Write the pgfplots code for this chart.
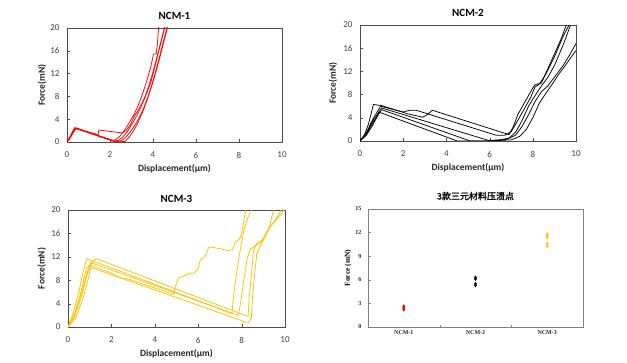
\documentclass[border=0pt]{standalone}
\usepackage{fontspec}
\usepackage{pgfplots}
\pgfplotsset{compat=1.18}
\setmainfont{Carlito}
\newfontfamily\lsf{Liberation Serif}
\newfontfamily\cjk{Noto Sans CJK SC}[FakeBold=1.5]
\definecolor{ncmred}{RGB}{255,0,0}
\definecolor{ncmorange}{RGB}{255,192,0}
\pgfplotsset{
  ncm/.style={
    scale only axis,
    xmin=0,xmax=10,ymin=0,ymax=20,
    xtick={0,2,...,10}, ytick={0,4,...,20},
    tick pos=left, tick align=inside, major tick length=3pt,
    axis line style={black!70}, tick style={black!70},
    ticklabel style={font=\fontsize{9}{10}\selectfont, text=black!75},
    /pgf/number format/assume math mode=true,
    xticklabel style={yshift=-6.5pt},
    yticklabel style={xshift=-4pt},
    label style={font=\bfseries\fontsize{9.5}{11}\selectfont, text=black!85},
    title style={font=\bfseries\fontsize{11}{13}\selectfont, at={(axis description cs:0.5,1)}, anchor=base},
    xlabel={Displacement(μm)}, ylabel={Force(mN)},
    xlabel style={at={(axis description cs:0.5,0)}, anchor=base, yshift=-29.5pt},
    every axis plot/.append style={line width=0.75pt, mark=none},
  }
}
\begin{document}
\begin{tikzpicture}
\path[use as bounding box] (0,0) rectangle (627pt,362pt);

% ---------- NCM-1 ----------
\begin{axis}[ncm, at={(67pt,220pt)}, anchor=south west, width=215pt, height=114pt,
  title={NCM-1}, title style={yshift=2.5pt},
  ylabel style={at={(axis description cs:-0.116,0.5)}, anchor=center}]
\addplot[ncmred] coordinates {(0,0)(0.1,0.5)(0.2,1.2)(0.3,1.9)(0.38,2.45)(2.2,0.1)(2.4,0.3)(2.6,0.9)(2.8,1.8)(3.0,3.0)(3.2,4.3)(3.4,5.8)(3.6,7.6)(3.8,9.8)(4.0,12.3)(4.2,15.1)(4.4,18.0)(4.6,21.0)};
\addplot[ncmred] coordinates {(0,0)(0.12,0.6)(0.25,1.5)(0.42,2.35)(2.35,0.05)(2.55,0.3)(2.75,0.9)(2.95,1.8)(3.15,2.9)(3.35,4.2)(3.55,5.8)(3.75,7.7)(3.95,10.0)(4.15,12.5)(4.35,15.3)(4.55,18.3)(4.75,21.3)};
\addplot[ncmred] coordinates {(0,0)(0.15,0.8)(0.3,1.9)(0.36,2.4)(1.45,1.3)(1.48,2.1)(2.55,1.6)(2.75,2.0)(2.95,3.0)(3.1,4.3)(3.3,5.5)(3.5,6.9)(3.7,8.5)(3.9,10.5)(4.05,12.6)(4.2,15.0)(4.4,18.0)(4.6,21.0)};
\addplot[ncmred] coordinates {(0,0)(0.1,0.7)(0.25,1.8)(0.35,2.5)(2.1,0.2)(2.3,0.5)(2.5,1.2)(2.7,2.2)(2.9,3.4)(3.1,4.7)(3.3,6.3)(3.5,8.3)(3.7,10.6)(3.9,13.2)(4.02,15.4)(4.15,15.5)(4.2,17.0)(4.27,20.5)};
\addplot[ncmred] coordinates {(0,0)(0.2,1.1)(0.33,2.0)(0.42,2.5)(2.3,0.0)(2.7,0.1)(2.9,0.9)(3.1,2.0)(3.3,3.4)(3.5,5.1)(3.7,7.1)(3.9,9.4)(4.1,12.0)(4.3,14.9)(4.5,17.9)(4.72,21.0)};
\end{axis}

% ---------- NCM-2 ----------
\begin{axis}[ncm, at={(360pt,221pt)}, anchor=south west, width=216pt, height=116pt,
  title={NCM-2}, title style={yshift=2.5pt},
  ylabel style={at={(axis description cs:-0.125,0.5)}, anchor=center}]
\addplot[black] coordinates {(0,0)(0.2,1.0)(0.4,3.0)(0.62,6.3)(1.0,6.1)(2.2,4.7)(2.9,4.1)(3.1,4.5)(3.35,5.3)(6.9,1.1)(7.1,2.5)(7.3,4.5)(7.6,6.5)(7.9,8.5)(8.1,9.7)(8.4,10.0)(8.7,12.5)(9.0,15.0)(9.3,17.5)(9.6,20.5)};
\addplot[black] coordinates {(0,0)(0.3,1.5)(0.6,3.8)(0.95,6.0)(2.0,5.0)(2.3,5.3)(2.6,5.3)(6.3,1.0)(6.7,1.0)(7.0,1.6)(7.3,3.5)(7.6,5.5)(7.9,7.5)(8.1,9.3)(8.3,9.8)(8.6,11.5)(9.0,14.5)(9.4,18.0)(9.75,20.5)};
\addplot[black] coordinates {(0,0)(0.3,1.3)(0.6,3.5)(1.0,5.7)(5.95,0.1)(6.5,0.2)(6.9,0.5)(7.2,1.5)(7.5,3.5)(7.8,6.0)(8.1,7.8)(8.4,9.5)(8.7,11.0)(9.0,13.0)(9.4,16.5)(9.8,20.5)};
\addplot[black] coordinates {(0,0)(0.3,1.2)(0.6,3.2)(1.0,5.4)(5.1,0.0)(6.0,0.0)(6.8,0.3)(7.2,1.0)(7.5,2.5)(7.8,4.5)(8.1,6.8)(8.4,8.5)(8.7,9.5)(9.0,11.0)(9.4,13.0)(9.7,14.8)(10.0,16.8)};
\addplot[black] coordinates {(0,0)(0.3,1.0)(0.6,2.8)(0.9,4.95)(4.5,0.0)(6.0,0.0)(7.0,0.2)(7.4,0.8)(7.7,2.0)(8.0,4.0)(8.3,6.5)(8.6,8.2)(8.9,9.8)(9.2,11.5)(9.5,13.0)(9.8,14.6)(10.0,15.6)};
\end{axis}

% ---------- NCM-3 ----------
\begin{axis}[ncm, at={(68pt,35pt)}, anchor=south west, width=217pt, height=117pt,
  title={NCM-3}, title style={yshift=1.5pt},
  ylabel style={at={(axis description cs:-0.121,0.5)}, anchor=center}]
\addplot[ncmorange] coordinates {(0,0)(0.3,2.0)(0.6,5.5)(0.9,9.5)(1.1,11.0)(1.3,11.7)(8.3,1.8)(8.35,5.0)(8.45,9.0)(8.55,13.0)(8.7,14.3)(9.0,15.0)(9.3,17.0)(9.6,18.5)(9.9,20.5)};
\addplot[ncmorange] coordinates {(0,0)(0.25,2.5)(0.5,6.0)(0.7,9.5)(0.86,11.7)(7.55,2.3)(7.65,6.0)(7.8,10.0)(7.95,13.5)(8.1,16.5)(8.3,18.8)(8.5,20.5)};
\addplot[ncmorange] coordinates {(0,0)(0.3,1.8)(0.6,5.0)(0.85,8.5)(1.05,11.0)(7.85,2.0)(7.95,4.0)(8.1,8.0)(8.25,11.5)(8.4,13.3)(8.6,13.8)(8.9,14.5)(9.2,16.5)(9.5,18.0)(9.8,19.2)(10.0,20.2)};
\addplot[ncmorange] coordinates {(0,0)(0.35,1.5)(0.7,5.0)(0.95,8.5)(1.05,10.2)(8.3,0.7)(8.45,1.5)(8.5,5.0)(8.6,9.0)(8.7,12.5)(8.9,14.2)(9.1,15.5)(9.3,17.5)(9.5,20.3)};
\addplot[ncmorange] coordinates {(0,0)(0.3,2.2)(0.6,6.0)(0.85,10.0)(1.0,10.6)(2.0,9.2)(2.4,8.4)(2.7,8.3)(4.85,5.6)(5.0,7.5)(5.1,8.4)(5.4,8.8)(5.6,9.2)(5.8,9.2)(6.0,10.0)(6.1,11.5)(6.3,12.0)(6.5,13.7)(7.0,13.4)(7.4,13.0)(7.6,13.3)(7.7,14.5)(7.9,15.0)(8.0,16.0)(8.1,18.0)(8.2,20.3)};
\end{axis}

% ---------- crushing points ----------
\begin{axis}[scale only axis, at={(368pt,35pt)}, anchor=south west, width=215pt, height=118pt,
  xmin=0.5, xmax=3.5, ymin=0, ymax=15,
  ytick={0,3,...,15},
  xtick={1.5,2.5}, xticklabels={},
  extra x ticks={1,2,3}, extra x tick labels={NCM-1,NCM-2,NCM-3},
  extra x tick style={major tick length=0pt},
  tick pos=left, tick align=inside, major tick length=2.5pt,
  axis line style={black!50}, tick style={black!50},
  ticklabel style={font=\lsf\bfseries\fontsize{6}{7}\selectfont, text=black!85},
  /pgf/number format/assume math mode=true,
  yticklabel style={xshift=-3pt},
  title={\cjk 3款三元材料压溃点},
  title style={font=\fontsize{9}{10}\selectfont, at={(axis description cs:0.5,1)}, anchor=base, yshift=3.5pt},
  ylabel={Force (mN)},
  ylabel style={font=\lsf\bfseries\fontsize{7.5}{8}\selectfont, at={(axis description cs:-0.093,0.5)}, anchor=center},
]
\addplot[only marks, mark=diamond*, mark size=1.5pt, color=ncmred] coordinates {(1,2.2)(1,2.35)(1,2.5)(1,2.65)};
\addplot[only marks, mark=diamond*, mark size=1.5pt, color=black] coordinates {(2,5.3)(2,5.5)(2,6.1)(2,6.3)};
\addplot[only marks, mark=diamond*, mark size=1.5pt, color=ncmorange] coordinates {(3,10.3)(3,10.6)(3,11.4)(3,11.6)(3,11.8)};
\end{axis}
\end{tikzpicture}
\end{document}
